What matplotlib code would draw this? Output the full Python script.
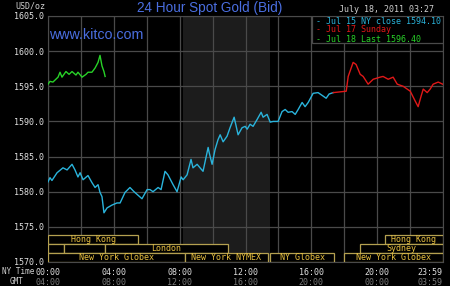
import matplotlib
matplotlib.use('Agg')
import matplotlib.pyplot as plt
from matplotlib.patches import Rectangle

# Jul 15 NY close (cyan), hours NY time / USD per oz
jul15_t = [0.00, 0.12, 0.24, 0.55, 0.91, 1.16, 1.46, 1.64, 1.82, 1.95, 2.13, 2.43, 2.67, 2.86,
           3.04, 3.16, 3.28, 3.40, 3.59, 3.89, 4.19, 4.38, 4.68, 4.98, 5.23, 5.71, 6.02, 6.20,
           6.38, 6.69, 6.87, 7.11, 7.29, 7.60, 7.84, 8.09, 8.21, 8.45, 8.69, 8.81, 9.06, 9.24,
           9.42, 9.73, 9.79, 9.97, 10.15, 10.33, 10.46, 10.64, 10.88, 11.06, 11.31, 11.55,
           11.79, 11.98, 12.10, 12.28, 12.46, 12.71, 12.95, 13.07, 13.31, 13.50, 13.68, 13.98,
           14.22, 14.41, 14.59, 14.83, 15.02, 15.20, 15.44, 15.62, 15.81, 16.11, 16.41, 16.72,
           16.90, 17.08, 17.33]
jul15_p = [1581.4, 1582.0, 1581.6, 1582.7, 1583.4, 1583.1, 1583.9, 1583.1, 1582.1, 1582.7,
           1581.7, 1582.3, 1581.3, 1580.6, 1581.0, 1579.9, 1579.3, 1577.0, 1577.7, 1578.1,
           1578.4, 1578.4, 1579.9, 1580.6, 1580.0, 1579.0, 1580.3, 1580.3, 1580.0, 1580.6,
           1580.3, 1582.9, 1582.4, 1581.0, 1580.0, 1582.1, 1581.7, 1582.4, 1584.6, 1583.4,
           1583.9, 1583.4, 1582.9, 1586.3, 1585.6, 1583.9, 1586.0, 1587.4, 1588.1, 1587.1,
           1587.9, 1589.1, 1590.6, 1588.1, 1589.1, 1589.3, 1588.9, 1589.6, 1589.3, 1590.3,
           1591.3, 1590.6, 1591.0, 1589.9, 1590.0, 1590.0, 1591.4, 1591.7, 1591.3, 1591.4,
           1591.0, 1591.7, 1592.7, 1592.1, 1592.7, 1594.0, 1594.1, 1593.6, 1593.3, 1593.9,
           1594.1]

# Jul 17 Sunday (red)
jul17_t = [17.33, 18.12, 18.24, 18.54, 18.72, 18.97, 19.15, 19.45, 19.76, 20.18, 20.36, 20.67,
           20.97, 21.22, 21.58, 22.01, 22.31, 22.49, 22.67, 22.80, 23.04, 23.22, 23.40, 23.71,
           23.98]
jul17_p = [1594.1, 1594.3, 1596.4, 1598.4, 1598.1, 1596.7, 1596.4, 1595.3, 1596.0, 1596.3,
           1596.4, 1596.0, 1596.3, 1595.3, 1595.0, 1594.3, 1592.9, 1592.1, 1593.6, 1594.6,
           1594.1, 1594.6, 1595.3, 1595.6, 1595.3]

# Jul 18 (green)
jul18_t = [0.00, 0.12, 0.30, 0.61, 0.73, 0.85, 1.09, 1.28, 1.46, 1.70, 1.82, 2.07, 2.31, 2.43,
           2.67, 2.86, 3.04, 3.16, 3.28, 3.40, 3.47]
jul18_p = [1595.3, 1595.7, 1595.6, 1596.3, 1597.0, 1596.3, 1597.1, 1596.7, 1597.1, 1596.6,
           1597.0, 1596.3, 1596.7, 1597.0, 1597.0, 1597.6, 1598.4, 1599.4, 1597.9, 1597.1,
           1596.4]

# trading sessions: (row, start, end, name)
sessions = [
    (0, 0.00, 5.47, 'Hong Kong'),
    (0, 20.47, 24.0, 'Hong Kong'),
    (1, 0.00, 0.97, ''),
    (1, 0.97, 3.46, ''),
    (1, 3.46, 10.94, 'London'),
    (1, 18.96, 24.0, 'Sydney'),
    (2, 0.00, 8.32, 'New York Globex'),
    (2, 8.32, 13.37, 'New York NYMEX'),
    (2, 13.49, 17.38, 'NY Globex'),
    (2, 17.98, 24.0, 'New York Globex'),
]
nymex_open, nymex_close = 8.2, 13.5

ny_ticks = [0, 4, 8, 12, 16, 20, 23.983]
ny_labels = ['00:00', '04:00', '08:00', '12:00', '16:00', '20:00', '23:59']
gmt_labels = ['04:00', '08:00', '12:00', '16:00', '20:00', '00:00', '03:59']

legend_items = [('- Jul 15 NY close 1594.10', '#2ab4dc'),
                ('- Jul 17 Sunday', '#e01818'),
                ('- Jul 18 Last 1596.40', '#28d228')]

mono = 'DejaVu Sans Mono'
W, H = 450, 286
fig = plt.figure(figsize=(W / 100, H / 100), dpi=100, facecolor='black')
ax = fig.add_axes([48 / W, 1 - 262 / H, 395 / W, 246 / H], facecolor='black')

ax.axvspan(nymex_open, nymex_close, color='#1c1c1c', zorder=0, lw=0)

ax.plot(jul15_t, jul15_p, color='#2ab4dc', lw=1.0, zorder=3)
ax.plot(jul17_t, jul17_p, color='#e01818', lw=1.0, zorder=3)
ax.plot(jul18_t, jul18_p, color='#28d228', lw=1.0, zorder=3)

ax.set_xlim(0, 24)
ax.set_ylim(1570, 1605)
ax.set_yticks(range(1570, 1606, 5))
ax.set_yticklabels(['%.1f' % v for v in range(1570, 1606, 5)])
ax.set_xticks(ny_ticks)
ax.set_xticklabels(ny_labels)
ax.set_xticks(range(2, 24, 4), minor=True)
ax.grid(True, which='both', color='#4a4a4a', lw=0.9, zorder=1)
ax.tick_params(which='both', length=0, colors='#e0e0e0', labelsize=6)
ax.tick_params(axis='y', pad=3)
ax.tick_params(axis='x', pad=4)
for lab in ax.get_xticklabels() + ax.get_yticklabels():
    lab.set_family(mono)
ax.get_xticklabels()[-1].set_horizontalalignment('right')
for s in ax.spines.values():
    s.set_color('#4a4a4a')

gmt = ax.secondary_xaxis(-0.066)
gmt.set_xticks(ny_ticks)
gmt.set_xticklabels(gmt_labels)
gmt.tick_params(length=0, colors='#7a7a7a', labelsize=6, pad=0)
for lab in gmt.get_xticklabels():
    lab.set_family(mono)
gmt.get_xticklabels()[-1].set_horizontalalignment('right')
gmt.spines['bottom'].set_visible(False)

# session boxes, three rows under the price lines
row_h = 1.286
for row, t0, t1, name in sessions:
    y0 = 1570 + (2 - row) * row_h
    ax.add_patch(Rectangle((t0, y0), t1 - t0, row_h, facecolor='black',
                           edgecolor='#b4a050', lw=0.9, zorder=4))
    if name:
        ax.text((t0 + t1) / 2, y0 + row_h / 2, name, color='#e8c040', fontsize=6,
                family=mono, ha='center', va='center', zorder=5)

# legend box
ax.add_patch(Rectangle((16.05, 1601.14), 7.95, 3.86, facecolor='black',
                       edgecolor='#4a4a4a', lw=0.9, zorder=4))
for i, (txt, col) in enumerate(legend_items):
    fig.text(316 / W, 1 - (21 + 9 * i) / H, txt, color=col, fontsize=6, family=mono,
             ha='left', va='center', zorder=6)

fig.text(210 / W, 1 - 8 / H, '24 Hour Spot Gold (Bid)', color='#4a6ee0', fontsize=9.8,
         family='Liberation Sans', ha='center', va='center')
fig.text(49 / W, 1 - 35 / H, 'www.kitco.com', color='#4a6ee0', fontsize=10.3,
         family='Liberation Sans', ha='left', va='center', zorder=6)
fig.text(434 / W, 1 - 10 / H, 'July 18, 2011 03:27', color='#d0d0d0', fontsize=6,
         family=mono, ha='right', va='center')
fig.text(15 / W, 1 - 6 / H, 'USD/oz', color='#d0d0d0', fontsize=6, family=mono,
         ha='left', va='center')
fig.text(34 / W, 1 - 272 / H, 'NY Time', color='#d0d0d0', fontsize=5.5, family=mono,
         ha='right', va='center')
fig.text(23 / W, 1 - 282 / H, 'GMT', color='#d0d0d0', fontsize=5.5, family=mono,
         ha='right', va='center')

fig.savefig('out.png', dpi=100, facecolor='black')
